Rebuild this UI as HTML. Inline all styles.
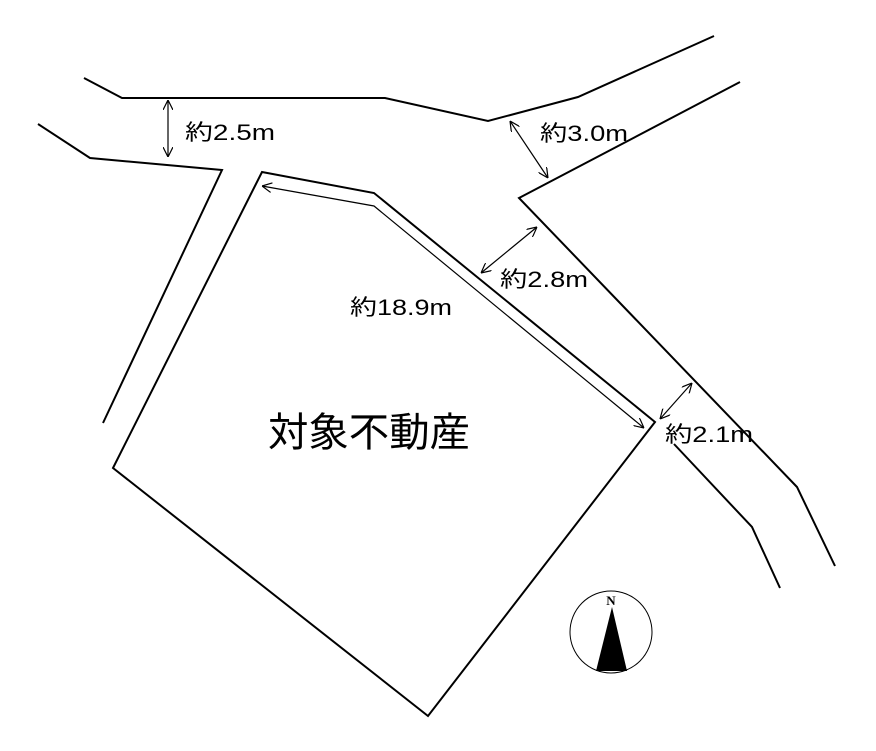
<!DOCTYPE html>
<html><head><meta charset="utf-8"><style>
html,body{margin:0;padding:0;background:#fff;}
svg{display:block}
text{font-family:"Liberation Sans","Noto Sans CJK JP",sans-serif;fill:#000}
</style></head><body>
<svg width="876" height="751" viewBox="0 0 876 751" xmlns="http://www.w3.org/2000/svg">
<defs>
<marker id="a" viewBox="0 0 10 10" refX="10" refY="5" markerWidth="10" markerHeight="10" orient="auto-start-reverse" markerUnits="userSpaceOnUse"><path d="M0,0 L10,5 L0,10" fill="none" stroke="#000" stroke-width="1.2"/></marker>
</defs>
<g fill="none" stroke="#000" stroke-width="2">
<polyline points="84,78 122,98 385,98 488,121 578,97 714,36"/>
<polyline points="38,124 90,158 222,170 103,423"/>
<polyline points="740,82 519,198 797,487 835,566"/>
<polygon points="262,172 374,193 655,422 428,716 113,468"/>
<polyline points="674,444 752,527 780,588"/>
</g>
<g stroke="#000" stroke-width="1.2" fill="none">
<polyline points="262,186 374,206 644,428" marker-start="url(#a)" marker-end="url(#a)"/>
<line x1="168" y1="100" x2="168" y2="157" marker-start="url(#a)" marker-end="url(#a)"/>
<line x1="510" y1="121" x2="548" y2="178" marker-start="url(#a)" marker-end="url(#a)"/>
<line x1="537" y1="227" x2="481" y2="273" marker-start="url(#a)" marker-end="url(#a)"/>
<line x1="692" y1="383" x2="660" y2="419" marker-start="url(#a)" marker-end="url(#a)"/>
</g>
<text x="185" y="140" font-size="22" textLength="90" lengthAdjust="spacingAndGlyphs">約2.5m</text>
<text x="540" y="141" font-size="22" textLength="88" lengthAdjust="spacingAndGlyphs">約3.0m</text>
<text x="500" y="287" font-size="22" textLength="88" lengthAdjust="spacingAndGlyphs">約2.8m</text>
<text x="350" y="315" font-size="22" textLength="102" lengthAdjust="spacingAndGlyphs">約18.9m</text>
<text x="665" y="442" font-size="22" textLength="88" lengthAdjust="spacingAndGlyphs">約2.1m</text>
<text x="268" y="446" font-size="40" textLength="202" lengthAdjust="spacingAndGlyphs">対象不動産</text>
<circle cx="611" cy="632" r="41" fill="none" stroke="#000" stroke-width="1"/>
<polygon points="612,607 596,671 627,671" fill="#000"/>
<text x="611" y="605" font-size="13" font-weight="bold" text-anchor="middle" style="font-family:'Liberation Serif',serif">N</text>
</svg>
</body></html>
